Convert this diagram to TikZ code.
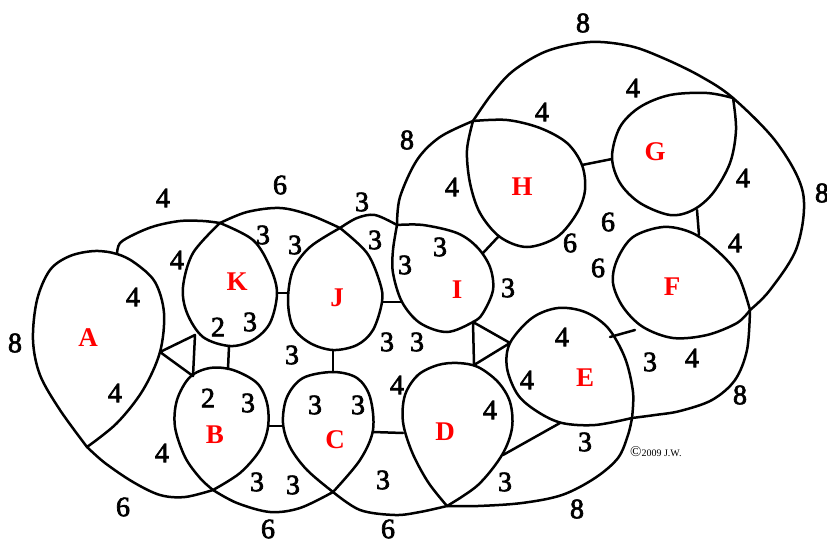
\documentclass[tikz,border=0pt]{standalone}
\usepackage{fontspec}
\setmainfont{Liberation Serif}
\newcommand\heavytext[1]{\special{pdf:literal direct 2 Tr 0.7 w}#1\special{pdf:literal direct 0 Tr}}
\definecolor{regionred}{HTML}{FF0000}
\tikzset{
  wire/.style={line width=2.5pt, line join=round, line cap=round},
  loopline/.style={wire, smooth, tension=0.55},
  num/.style={font=\fontsize{28}{30}\selectfont, inner sep=0pt},
  region/.style={font=\fontsize{27}{30}\selectfont\bfseries, text=regionred, inner sep=0pt}
}
\begin{document}
\begin{tikzpicture}[x=1pt,y=-1pt]
\useasboundingbox (0,0) rectangle (827,544);
\coordinate (tA) at (117,254);
\coordinate (bA) at (87,447);
\coordinate (cK) at (220,223);
\coordinate (cJ) at (340,228);
\coordinate (cI) at (397,225);
\coordinate (cH) at (473,121);
\coordinate (cG) at (733,98);
\coordinate (cF) at (750,310);
\coordinate (cE) at (632,418);
\coordinate (cD) at (447,506);
\coordinate (cC) at (333,492);
\coordinate (cB) at (213,490);
\draw[loopline] plot coordinates {(bA) (117,423) (143,390) (160,352) (164,313) (155,282) (135,263) (tA) (95,251) (70,256) (50,270) (37,300) (33,340) (40,375) (60,410) (bA)};
\draw[loopline] plot coordinates {(tA) (120,243) (135,234) (155,226) (180,221) (203,221) (cK)};
\draw[loopline] plot coordinates {(cK) (253,240) (270,267) (277,293) (270,323) (253,340) (230,346) (203,337) (187,313) (183,287) (193,253) (cK)};
\draw[loopline] plot coordinates {(cK) (247,212) (280,208) (310,215) (cJ)};
\draw[loopline] plot coordinates {(cJ) (367,253) (380,283) (382,302) (373,330) (357,345) (333,350) (310,343) (293,327) (288,300) (293,270) (310,247) (cJ)};
\draw[loopline] plot coordinates {(cJ) (357,218) (375,215) (cI)};
\draw[loopline] plot coordinates {(cI) (423,225) (457,233) (477,247) (490,267) (493,290) (483,313) (473,322) (447,332) (420,323) (402,302) (393,273) (393,250) (cI)};
\draw[loopline] plot coordinates {(cI) (400,197) (417,160) (440,137) (cH)};
\draw[loopline] plot coordinates {(cH) (507,120) (540,128) (567,143) (582,165) (585,190) (577,213) (557,237) (527,247) (500,237) (480,213) (470,183) (467,150) (cH)};
\draw[loopline] plot coordinates {(cH) (491,95) (513,71) (547,51) (590,42) (630,46) (663,58) (700,76) (cG) (777,143) (803,193) (797,247) (770,290) (cF)};
\draw[loopline] plot coordinates {(cG) (707,93) (670,95) (640,107) (620,127) (612,157) (620,183) (640,203) (670,215) (693,210) (713,193) (730,163) (736,130) (cG)};
\draw[loopline] plot coordinates {(cF) (737,273) (713,247) (690,232) (663,227) (633,237) (617,260) (613,283) (623,307) (643,327) (673,338) (707,335) (737,323) (cF)};
\draw[loopline] plot coordinates {(cF) (747,350) (735,380) (712,400) (680,411) (655,415) (cE)};
\draw[loopline] plot coordinates {(cE) (633,392) (625,358) (608,328) (585,312) (558,308) (532,318) (510,343) (507,368) (518,395) (538,412) (562,423) (595,425) (cE)};
\draw[loopline] plot coordinates {(cE) (628,435) (618,458) (595,478) (562,495) (522,503) (478,506) (cD)};
\draw[loopline] plot coordinates {(cD) (428,482) (412,452) (403,422) (405,395) (418,375) (438,365) (458,363) (478,367) (498,382) (510,402) (512,428) (502,455) (478,485) (cD)};
\draw[loopline] plot coordinates {(cD) (420,512) (395,515) (360,510) (cC)};
\draw[loopline] plot coordinates {(cC) (307,470) (290,447) (283,423) (287,397) (303,378) (333,372) (357,378) (370,397) (373,430) (360,460) (cC)};
\draw[loopline] plot coordinates {(cC) (300,508) (270,512) (237,503) (cB)};
\draw[loopline] plot coordinates {(cB) (240,473) (260,450) (268,427) (267,403) (257,383) (233,370) (210,368) (190,377) (177,400) (175,427) (185,457) (200,478) (cB)};
\draw[loopline] plot coordinates {(cB) (185,497) (160,495) (133,482) (105,463) (bA)};
\coordinate (akb) at (160,352);
\coordinate (ka) at (195,335);
\coordinate (ba) at (193,376);
\draw[wire] (akb) -- (ka) -- (ba) -- cycle;
\draw[wire] (229,346) -- (228,369);
\draw[wire] (277,293) -- (288,293);
\draw[wire] (382,302) -- (401,302);
\draw[wire] (268,426) -- (283,426);
\draw[wire] (333,350) -- (333,372);
\draw[wire] (373,432) -- (403,433);
\coordinate (id) at (473,322);
\coordinate (di) at (474,365);
\coordinate (ed) at (510,343);
\draw[wire] (id) -- (di) -- (ed) -- cycle;
\draw[wire] (503,455) -- (560,423);
\draw[wire] (610,337) -- (635,330);
\draw[wire] (483,253) -- (498,237);
\draw[wire] (582,165) -- (612,159);
\draw[wire] (697,210) -- (699,235);
\foreach \x/\y/\t [count=\i] in {163/198/4, 280/185/6, 362/202/3, 407/140/8, 452/187/4, 542/112/4, 583/23/8, 633/88/4, 743/178/4, 822/193/8, 608/222/6, 570/243/6, 598/268/6, 735/243/4, 508/288/3, 177/260/4, 263/235/3, 295/245/3, 375/240/3, 405/265/3, 440/247/3, 133/297/4, 15/343/8, 218/327/2, 250/322/3, 292/355/3, 387/342/3, 417/342/3, 115/393/4, 208/398/2, 248/403/3, 315/405/3, 358/405/3, 397/385/4, 490/410/4, 527/380/4, 562/337/4, 650/362/3, 692/358/4, 740/395/8, 162/453/4, 257/482/3, 293/485/3, 383/480/3, 505/482/3, 585/442/3, 123/507/6, 268/529/6, 388/529/6, 577/509/8}
  \node[num] (w\i) at (\x,\y) {\heavytext{\t}};
\foreach \x/\y/\t in {88/338/A, 237/282/K, 337/298/J, 457/290/I, 522/187/H, 655/152/G, 672/287/F, 585/378/E, 445/432/D, 335/440/C, 215/435/B}
  \node[region] (\t) at (\x,\y) {\t};
\node[anchor=west, inner sep=0pt, font=\fontsize{10}{12}\selectfont] (mark) at (630,452) {{\fontsize{15}{15}\selectfont\textcopyright}2009 J.W.};
\end{tikzpicture}
\end{document}
